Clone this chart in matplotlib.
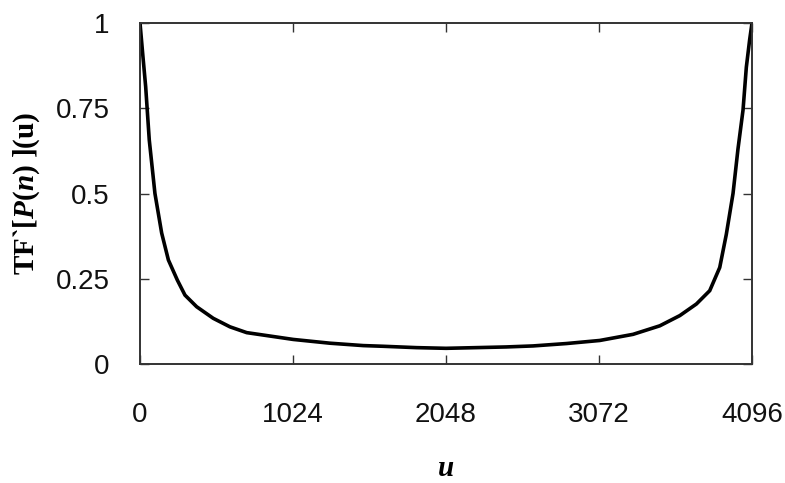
import matplotlib
matplotlib.use("Agg")
import matplotlib.pyplot as plt

# data
u_vals = [0, 10, 20, 38, 62, 100, 145, 190, 250, 301, 379, 490, 602, 714, 870,
          1026, 1271, 1494, 1626, 1850, 2048, 2250, 2450, 2631, 2854, 3077,
          3300, 3479, 3613, 3724, 3813, 3880, 3924, 3969, 4002, 4036, 4058,
          4080, 4096]
tf_vals = [1.0, 0.95, 0.9, 0.813, 0.657, 0.50, 0.384, 0.305, 0.246, 0.202,
           0.168, 0.134, 0.109, 0.092, 0.082, 0.072, 0.061, 0.054, 0.052,
           0.048, 0.046, 0.048, 0.050, 0.053, 0.060, 0.069, 0.087, 0.112,
           0.142, 0.176, 0.215, 0.283, 0.38, 0.50, 0.63, 0.745, 0.87, 0.95, 1.0]
x_ticks = [0, 1024, 2048, 3072, 4096]
y_ticks = [0, 0.25, 0.5, 0.75, 1]
y_tick_labels = ["0", "0.25", "0.5", "0.75", "1"]

plt.rcParams['mathtext.fontset'] = 'custom'
plt.rcParams['mathtext.rm'] = 'Liberation Serif:bold'
plt.rcParams['mathtext.it'] = 'Liberation Serif:italic:bold'
plt.rcParams['mathtext.bf'] = 'Liberation Serif:bold'

W, H = 785, 483
fig = plt.figure(figsize=(W / 100, H / 100), dpi=100)
ax = fig.add_axes([140 / W, (H - 364) / H, 612 / W, 341 / H])

ax.plot(u_vals, tf_vals, color='black', linewidth=2.6, solid_joinstyle='miter')

ax.set_xlim(0, 4096)
ax.set_ylim(0, 1)
ax.set_xticks(x_ticks)
ax.set_xticklabels([str(t) for t in x_ticks])
ax.set_yticks(y_ticks)
ax.set_yticklabels(y_tick_labels)

ax.tick_params(axis='both', which='both', direction='in', length=6.5, width=1.0,
               color='#333333', top=True, right=True,
               labelsize=20, labelcolor='#111111')
ax.tick_params(axis='x', pad=27)
ax.tick_params(axis='y', pad=22)
for lab in ax.get_xticklabels() + ax.get_yticklabels():
    lab.set_family('Liberation Sans')

for sp in ax.spines.values():
    sp.set_linewidth(1.4)
    sp.set_color('#333333')

fig.text(446 / W, 1.5 / H, 'u', family='Liberation Serif', style='italic',
         weight='bold', fontsize=21, ha='center', va='bottom')
fig.text(27 / W, (H - 193) / H, 'TF`[$P(n)$ ](u)', family='Liberation Serif',
         weight='bold', fontsize=21, rotation=90, ha='center', va='center')

fig.savefig('out.png', dpi=100, facecolor='white')
